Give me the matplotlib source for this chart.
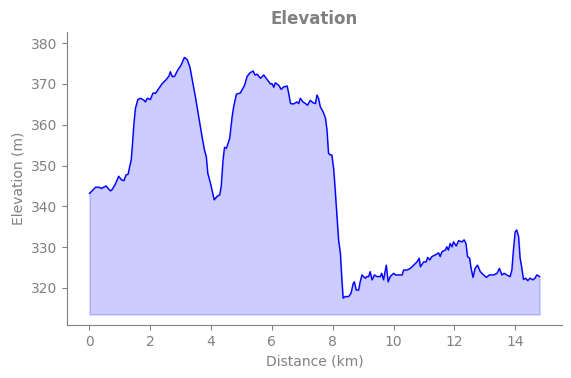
import matplotlib
matplotlib.use('Agg')
import matplotlib.pyplot as plt

distance_km = [
    0.00, 0.03, 0.11, 0.20, 0.31, 0.39, 0.47, 0.55, 0.61, 0.69, 0.75, 0.83, 0.91, 0.96,
    1.05, 1.13, 1.20, 1.27, 1.32, 1.37, 1.41, 1.46, 1.51, 1.59, 1.68, 1.79, 1.84, 1.90,
    2.00, 2.09, 2.17, 2.28, 2.39, 2.50, 2.61, 2.66, 2.72, 2.80, 2.90, 3.01, 3.12, 3.21,
    3.30, 3.37, 3.48, 3.59, 3.70, 3.78, 3.84, 3.89, 3.98, 4.10, 4.20, 4.28, 4.33, 4.39,
    4.44, 4.50, 4.61, 4.69, 4.74, 4.83, 4.96, 5.04, 5.10, 5.18, 5.27, 5.38, 5.44, 5.51,
    5.62, 5.73, 5.84, 5.95, 6.00, 6.06, 6.11, 6.22, 6.30, 6.39, 6.50, 6.55, 6.61, 6.71,
    6.82, 6.88, 6.93, 7.02, 7.10, 7.17, 7.26, 7.35, 7.43, 7.48, 7.53, 7.59, 7.68, 7.76,
    7.81, 7.86, 7.92, 7.97, 8.03, 8.08, 8.14, 8.19, 8.25, 8.30, 8.34, 8.41, 8.52, 8.60,
    8.67, 8.71, 8.77, 8.85, 8.90, 8.96, 9.01, 9.07, 9.12, 9.18, 9.23, 9.29, 9.37, 9.45,
    9.56, 9.61, 9.67, 9.76, 9.82, 9.89, 10.00, 10.06, 10.16, 10.28, 10.33, 10.44, 10.55,
    10.66, 10.77, 10.84, 10.88, 10.99, 11.07, 11.12, 11.19, 11.26, 11.37, 11.48, 11.53,
    11.59, 11.70, 11.75, 11.80, 11.86, 11.92, 11.97, 12.06, 12.14, 12.25, 12.32, 12.38,
    12.43, 12.50, 12.54, 12.61, 12.68, 12.76, 12.85, 12.96, 13.05, 13.15, 13.29, 13.40,
    13.48, 13.56, 13.64, 13.72, 13.83, 13.89, 13.94, 14.00, 14.05, 14.11, 14.16, 14.21,
    14.27, 14.34, 14.41, 14.49, 14.58, 14.65, 14.71, 14.80,
]
elevation_m = [
    343.2, 343.4, 344.0, 344.7, 344.7, 344.4, 344.7, 345.0, 344.4, 343.8, 344.2, 345.2, 346.5, 347.4,
    346.5, 346.3, 347.7, 347.9, 349.7, 351.3, 355.0, 360.3, 364.0, 366.2, 366.5, 366.0, 365.6, 366.5,
    366.2, 367.8, 367.7, 368.9, 370.1, 370.9, 371.9, 373.0, 371.8, 371.9, 373.4, 374.6, 376.5, 376.0,
    374.2, 371.4, 366.9, 362.0, 357.1, 353.8, 352.2, 348.1, 345.6, 341.6, 342.5, 342.8, 344.8, 351.3,
    354.5, 354.2, 356.7, 362.0, 364.4, 367.5, 367.8, 368.9, 369.7, 371.8, 372.7, 373.2, 372.2, 372.4,
    371.4, 372.2, 371.1, 370.0, 370.1, 369.2, 370.3, 369.7, 368.7, 369.3, 369.5, 367.7, 365.2, 365.1,
    365.6, 365.2, 366.5, 365.6, 365.2, 364.8, 366.0, 365.4, 365.2, 367.3, 366.5, 364.4, 363.2, 361.6,
    358.7, 353.0, 352.6, 352.6, 349.1, 344.0, 337.5, 331.8, 328.5, 322.0, 317.5, 317.9, 317.9, 318.7,
    321.1, 321.5, 319.5, 319.5, 321.5, 323.2, 322.8, 322.4, 322.8, 322.8, 324.0, 322.0, 323.2, 322.8,
    322.8, 323.6, 322.0, 325.6, 321.5, 322.8, 323.6, 323.2, 323.2, 323.2, 324.4, 324.4, 324.8,
    325.6, 326.4, 327.3, 325.2, 326.4, 326.4, 327.5, 326.9, 327.7, 328.1, 328.6, 327.7,
    328.9, 329.3, 330.1, 329.3, 330.9, 330.1, 331.3, 330.3, 331.6, 331.3, 331.8, 330.9,
    327.7, 327.3, 325.2, 322.6, 324.8, 325.6, 324.0, 323.2, 322.6, 323.2, 323.2, 323.6,
    324.8, 323.2, 323.6, 323.2, 322.8, 324.4, 329.3, 333.8, 334.2, 332.6, 327.3, 325.2,
    322.1, 322.4, 321.8, 322.4, 322.0, 322.4, 323.2, 322.8,
]
fill_base = 313.5

gris = '#808080'

fig = plt.figure(figsize=(5.71, 3.78), dpi=100)
ax = fig.add_axes([0.1173, 0.140, 0.867, 0.775])

ax.plot(distance_km, elevation_m, color='blue', linewidth=1)
ax.fill_between(distance_km, elevation_m, fill_base, color='blue', alpha=0.2)

ax.set_ylim(310.9, 382.7)
ax.set_xticks([0, 2, 4, 6, 8, 10, 12, 14])
ax.set_yticks([320, 330, 340, 350, 360, 370, 380])

ax.set_title('Elevation', fontsize=12, fontweight='bold', color=gris)
ax.set_xlabel('Distance (km)', color=gris)
ax.set_ylabel('Elevation (m)', color=gris)

for s in ['top', 'right']:
    ax.spines[s].set_visible(False)
for s in ['left', 'bottom']:
    ax.spines[s].set_color(gris)
ax.tick_params(colors=gris)

fig.savefig('out.png', dpi=100)
